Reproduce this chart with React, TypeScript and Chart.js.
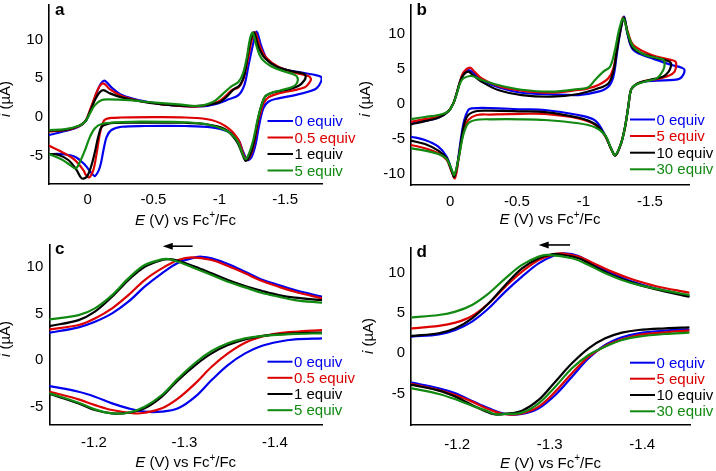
import React, { useEffect, useRef } from "react";
import { Chart, registerables } from "chart.js";

Chart.register(...registerables);

type P = [number, number];

const FONT = '"Liberation Sans", Arial, Helvetica, sans-serif';
const COLORS = ["#0000ee", "#dd0000", "#000000", "#128a12"];

// ---------- Panel a (full CV, 0 / 0.5 / 1 / 5 equiv) ----------
const labelsA = ["0 equiv", "0.5 equiv", "1 equiv", "5 equiv"];
const xTicksA = [0, -0.5, -1, -1.5];
const yTicksA = [-5, 0, 5, 10];
const a0: P[] = [[0.294,-2.37],[0.172,-1.85],[0.07,-1.3],[0.01,-0.43],[-0.03,1.3],[-0.07,3.2],[-0.1,4.3],[-0.126,4.66],[-0.15,4.35],[-0.18,3.8],[-0.26,2.8],[-0.385,2.16],[-0.56,1.64],[-0.74,1.38],[-0.89,1.38],[-0.99,1.73],[-1.07,2.25],[-1.145,2.8],[-1.19,4.1],[-1.22,6.5],[-1.258,9.5],[-1.284,11.0],[-1.32,9.05],[-1.37,7.3],[-1.47,6.26],[-1.626,5.7],[-1.74,5.35],[-1.775,5.1],[-1.772,4.5],[-1.74,3.7],[-1.7,3.37],[-1.575,2.8],[-1.448,2.38],[-1.372,1.94],[-1.334,1.08],[-1.3,-1.3],[-1.277,-3.45],[-1.246,-5.17],[-1.215,-5.6],[-1.18,-4.5],[-1.145,-3.0],[-1.07,-1.94],[-0.94,-1.37],[-0.74,-1.2],[-0.435,-1.2],[-0.258,-1.3],[-0.18,-1.72],[-0.144,-2.6],[-0.12,-4.3],[-0.093,-6.5],[-0.055,-7.67],[-0.03,-7.3],[0.02,-6.25],[0.097,-5.17],[0.198,-4.83],[0.294,-4.83]];
const a1: P[] = [[0.294,-1.9],[0.17,-1.75],[0.07,-1.25],[0.02,-0.64],[-0.017,0.86],[-0.055,2.6],[-0.088,3.88],[-0.119,4.32],[-0.169,3.54],[-0.258,2.68],[-0.385,2.07],[-0.56,1.64],[-0.815,1.3],[-0.99,1.94],[-1.056,2.8],[-1.094,3.45],[-1.145,3.8],[-1.18,4.75],[-1.216,7.33],[-1.246,9.9],[-1.271,10.9],[-1.31,9.05],[-1.36,7.55],[-1.448,6.47],[-1.575,5.7],[-1.676,5.27],[-1.695,4.95],[-1.688,4.5],[-1.65,3.8],[-1.55,3.37],[-1.448,3.0],[-1.372,2.5],[-1.335,1.7],[-1.315,0.6],[-1.297,-0.43],[-1.27,-3.0],[-1.241,-4.83],[-1.208,-5.6],[-1.18,-4.7],[-1.145,-3.0],[-1.07,-1.5],[-0.94,-0.43],[-0.74,-0.1],[-0.5,-0.05],[-0.25,-0.1],[-0.18,-0.15],[-0.14,-0.3],[-0.119,-0.64],[-0.093,-2.15],[-0.068,-4.74],[-0.043,-6.9],[-0.02,-7.7],[-0.005,-7.84],[0.015,-7.5],[0.033,-6.9],[0.097,-5.6],[0.2,-4.53],[0.294,-3.75]];
const a2: P[] = [[0.294,-1.8],[0.17,-1.7],[0.07,-1.2],[0.02,-0.64],[-0.017,0.65],[-0.055,2.16],[-0.088,3.1],[-0.119,3.45],[-0.169,3.02],[-0.258,2.5],[-0.385,2.03],[-0.56,1.6],[-0.815,1.38],[-0.99,1.8],[-1.056,2.6],[-1.107,3.5],[-1.157,4.1],[-1.19,5.4],[-1.216,8.0],[-1.241,10.1],[-1.264,10.9],[-1.297,9.05],[-1.347,7.55],[-1.436,6.47],[-1.55,5.9],[-1.638,5.6],[-1.655,5.3],[-1.648,4.75],[-1.6,3.97],[-1.5,3.45],[-1.4,3.1],[-1.347,2.6],[-1.317,1.3],[-1.29,-0.64],[-1.264,-3.2],[-1.233,-4.95],[-1.2,-5.7],[-1.175,-4.83],[-1.132,-3.2],[-1.043,-1.6],[-0.89,-0.94],[-0.74,-0.78],[-0.4,-0.78],[-0.2,-0.8],[-0.157,-0.9],[-0.106,-1.3],[-0.08,-2.6],[-0.055,-4.53],[-0.025,-6.47],[0.008,-7.76],[0.046,-7.97],[0.084,-6.9],[0.147,-5.6],[0.22,-4.95],[0.294,-4.8]];
const a3: P[] = [[0.294,-1.72],[0.17,-1.6],[0.07,-1.2],[0.02,-0.64],[-0.017,0.43],[-0.055,1.5],[-0.106,2.16],[-0.157,2.25],[-0.31,2.16],[-0.435,1.94],[-0.69,1.6],[-0.85,1.4],[-0.95,1.9],[-0.99,2.38],[-1.045,3.24],[-1.094,3.97],[-1.145,4.5],[-1.18,5.6],[-1.21,7.76],[-1.233,10.1],[-1.254,10.87],[-1.284,9.05],[-1.32,7.55],[-1.4,6.47],[-1.5,5.82],[-1.575,5.4],[-1.595,5.0],[-1.588,4.3],[-1.55,3.8],[-1.474,3.45],[-1.385,3.0],[-1.347,2.6],[-1.317,1.3],[-1.29,-0.43],[-1.258,-3.0],[-1.226,-4.74],[-1.2,-5.5],[-1.175,-4.74],[-1.132,-3.0],[-1.043,-1.72],[-0.89,-0.94],[-0.7,-0.7],[-0.4,-0.64],[-0.26,-0.7],[-0.106,-0.94],[-0.055,-1.5],[-0.017,-2.6],[0.02,-4.3],[0.058,-5.8],[0.091,-6.68],[0.134,-6.25],[0.2,-5.5],[0.294,-4.83]];

// ---------- Panel b (full CV, 0 / 5 / 10 / 30 equiv) ----------
const labelsB = ["0 equiv", "5 equiv", "10 equiv", "30 equiv"];
const xTicksB = [0, -0.5, -1, -1.5];
const yTicksB = [-10, -5, 0, 5, 10];
const b0: P[] = [[0.295,-2.85],[0.19,-2.45],[0.09,-2.0],[0.015,-1.1],[-0.023,0.05],[-0.048,1.49],[-0.073,3.15],[-0.098,4.2],[-0.14,4.8],[-0.18,4.3],[-0.236,3.39],[-0.36,2.35],[-0.536,1.57],[-0.76,1.34],[-0.962,1.24],[-1.112,1.72],[-1.187,2.43],[-1.225,3.87],[-1.25,6.97],[-1.275,10.07],[-1.305,12.45],[-1.333,9.8],[-1.375,7.68],[-1.513,6.5],[-1.663,5.54],[-1.738,5.15],[-1.758,4.9],[-1.752,4.2],[-1.725,3.6],[-1.68,3.4],[-1.55,3.3],[-1.45,3.15],[-1.388,2.67],[-1.357,1.96],[-1.337,-0.43],[-1.313,-3.29],[-1.283,-5.67],[-1.24,-7.4],[-1.207,-6.38],[-1.162,-4.48],[-1.087,-2.4],[-0.962,-1.62],[-0.711,-0.9],[-0.536,-0.8],[-0.3,-0.62],[-0.16,-0.66],[-0.135,-0.9],[-0.105,-2.33],[-0.086,-4.24],[-0.065,-7.1],[-0.048,-9.5],[-0.03,-10.45],[-0.01,-9.5],[0.027,-7.58],[0.09,-6.15],[0.19,-5.19],[0.295,-4.72]];
const b1: P[] = [[0.295,-2.6],[0.19,-2.2],[0.09,-1.86],[0.015,-1.1],[-0.023,0.05],[-0.048,1.49],[-0.073,3.15],[-0.098,4.43],[-0.148,5.15],[-0.18,4.6],[-0.236,3.63],[-0.36,2.53],[-0.536,1.86],[-0.76,1.57],[-0.962,1.96],[-1.037,2.2],[-1.112,2.67],[-1.187,3.63],[-1.225,5.06],[-1.25,7.68],[-1.275,10.5],[-1.3,12.35],[-1.333,10.3],[-1.375,8.4],[-1.513,6.97],[-1.65,6.3],[-1.69,6.05],[-1.697,5.6],[-1.685,4.6],[-1.64,4.0],[-1.55,3.5],[-1.45,3.2],[-1.388,2.67],[-1.357,1.96],[-1.337,-0.43],[-1.313,-3.29],[-1.283,-5.67],[-1.24,-7.4],[-1.207,-6.4],[-1.162,-4.6],[-1.087,-3.0],[-0.962,-2.1],[-0.711,-1.47],[-0.536,-1.45],[-0.3,-1.55],[-0.2,-1.62],[-0.135,-2.33],[-0.105,-3.52],[-0.086,-5.19],[-0.065,-7.58],[-0.035,-10.67],[-0.01,-9.7],[0.027,-8.05],[0.09,-7.1],[0.19,-6.38],[0.295,-5.9]];
const b2: P[] = [[0.295,-2.95],[0.19,-2.5],[0.09,-2.0],[0.015,-1.1],[-0.023,0.05],[-0.048,1.49],[-0.073,3.1],[-0.098,4.1],[-0.135,4.58],[-0.17,4.1],[-0.236,3.15],[-0.36,1.96],[-0.536,1.24],[-0.76,1.0],[-0.962,1.39],[-1.112,2.2],[-1.187,2.9],[-1.225,4.58],[-1.25,7.5],[-1.277,10.4],[-1.305,12.3],[-1.333,10.0],[-1.375,7.9],[-1.513,6.7],[-1.62,6.2],[-1.655,5.9],[-1.658,5.4],[-1.64,4.6],[-1.6,3.9],[-1.5,3.4],[-1.42,3.0],[-1.388,2.67],[-1.357,1.96],[-1.337,-0.43],[-1.313,-3.29],[-1.283,-5.67],[-1.24,-7.4],[-1.207,-6.4],[-1.162,-4.5],[-1.087,-2.9],[-0.962,-2.0],[-0.711,-1.2],[-0.536,-1.1],[-0.3,-1.0],[-0.2,-1.05],[-0.135,-1.62],[-0.105,-2.9],[-0.086,-4.72],[-0.065,-7.34],[-0.03,-10.45],[-0.01,-9.6],[0.027,-7.8],[0.09,-6.72],[0.19,-5.77],[0.295,-5.29]];
const b3: P[] = [[0.295,-2.2],[0.19,-1.9],[0.09,-1.62],[0.015,-1.1],[-0.023,0.05],[-0.048,1.4],[-0.073,2.9],[-0.098,3.63],[-0.16,3.96],[-0.236,3.39],[-0.36,2.67],[-0.536,2.0],[-0.76,1.72],[-0.962,2.1],[-1.037,2.35],[-1.087,3.39],[-1.15,4.58],[-1.2,5.3],[-1.237,7.68],[-1.267,10.5],[-1.3,12.2],[-1.333,10.07],[-1.375,8.15],[-1.463,6.97],[-1.563,6.5],[-1.6,6.3],[-1.61,5.7],[-1.6,4.82],[-1.55,3.63],[-1.46,3.15],[-1.388,2.67],[-1.357,1.96],[-1.337,-0.43],[-1.313,-3.29],[-1.283,-5.67],[-1.237,-7.34],[-1.207,-6.38],[-1.162,-4.48],[-1.087,-3.38],[-0.962,-2.8],[-0.711,-2.33],[-0.536,-2.23],[-0.3,-2.23],[-0.2,-2.3],[-0.135,-2.8],[-0.105,-4.0],[-0.086,-5.43],[-0.065,-7.58],[-0.03,-10.2],[-0.01,-9.4],[0.027,-7.9],[0.09,-7.2],[0.19,-6.72],[0.295,-6.38]];

// ---------- Panel c (zoom of main wave, 0 / 0.5 / 1 / 5 equiv) ----------
const labelsC = ["0 equiv", "0.5 equiv", "1 equiv", "5 equiv"];
const xTicksC = [-1.2, -1.3, -1.4];
const yTicksC = [-5, 0, 5, 10];
const c0Up: P[] = [[-1.151,2.93],[-1.183,3.5],[-1.201,4.1],[-1.22,5.0],[-1.238,6.25],[-1.256,7.86],[-1.275,9.29],[-1.293,10.43],[-1.312,11.0],[-1.319,11.07],[-1.33,10.9],[-1.348,10.3],[-1.367,9.47],[-1.385,8.64],[-1.404,8.04],[-1.422,7.5],[-1.452,6.79]];
const c0Dn: P[] = [[-1.452,2.32],[-1.422,2.21],[-1.404,1.96],[-1.385,1.5],[-1.367,0.71],[-1.348,-0.54],[-1.33,-2.15],[-1.312,-3.93],[-1.293,-5.18],[-1.275,-5.54],[-1.256,-5.54],[-1.238,-5.18],[-1.22,-4.65],[-1.201,-3.93],[-1.183,-3.4],[-1.151,-2.79]];
const c1Up: P[] = [[-1.151,3.28],[-1.183,3.75],[-1.201,4.46],[-1.22,5.54],[-1.238,6.96],[-1.256,8.57],[-1.275,9.82],[-1.293,10.72],[-1.308,11.0],[-1.33,10.72],[-1.348,10.07],[-1.367,9.29],[-1.385,8.5],[-1.404,7.86],[-1.422,7.32],[-1.452,6.61]];
const c1Dn: P[] = [[-1.452,3.21],[-1.422,3.03],[-1.404,2.86],[-1.385,2.5],[-1.367,1.85],[-1.348,0.71],[-1.33,-0.72],[-1.312,-2.5],[-1.293,-4.11],[-1.275,-5.18],[-1.256,-5.65],[-1.245,-5.72],[-1.22,-5.36],[-1.201,-4.83],[-1.183,-4.22],[-1.151,-3.4]];
const c2Up: P[] = [[-1.151,3.64],[-1.183,4.28],[-1.201,5.18],[-1.22,6.79],[-1.238,8.57],[-1.256,10.0],[-1.275,10.72],[-1.284,10.82],[-1.293,10.64],[-1.312,10.0],[-1.33,9.29],[-1.348,8.57],[-1.367,7.93],[-1.385,7.43],[-1.404,6.96],[-1.422,6.68],[-1.452,6.43]];
const c2Dn: P[] = [[-1.452,2.93],[-1.422,2.86],[-1.404,2.75],[-1.385,2.57],[-1.367,2.21],[-1.348,1.6],[-1.33,0.71],[-1.312,-0.54],[-1.293,-2.15],[-1.275,-3.93],[-1.256,-5.18],[-1.238,-5.65],[-1.22,-5.72],[-1.201,-5.36],[-1.183,-4.65],[-1.151,-3.65]];
const c3Up: P[] = [[-1.151,4.36],[-1.183,4.82],[-1.201,5.54],[-1.22,6.96],[-1.238,8.75],[-1.256,10.18],[-1.275,10.79],[-1.282,10.82],[-1.293,10.54],[-1.312,9.82],[-1.33,9.11],[-1.348,8.39],[-1.367,7.79],[-1.385,7.21],[-1.404,6.79],[-1.422,6.43],[-1.452,6.14]];
const c3Dn: P[] = [[-1.452,2.86],[-1.422,2.8],[-1.385,2.57],[-1.367,2.32],[-1.348,1.79],[-1.33,0.96],[-1.312,-0.29],[-1.293,-1.97],[-1.275,-3.75],[-1.256,-5.0],[-1.238,-5.65],[-1.22,-5.72],[-1.201,-5.29],[-1.183,-4.58],[-1.151,-3.58]];

// ---------- Panel d (zoom of main wave, 0 / 5 / 10 / 30 equiv) ----------
const labelsD = ["0 equiv", "5 equiv", "10 equiv", "30 equiv"];
const xTicksD = [-1.2, -1.3, -1.4];
const yTicksD = [-5, 0, 5, 10];
const d0Up: P[] = [[-1.151,2.07],[-1.18,2.35],[-1.198,2.9],[-1.216,3.93],[-1.234,5.58],[-1.252,7.65],[-1.27,9.51],[-1.288,11.16],[-1.306,12.2],[-1.316,12.4],[-1.331,12.07],[-1.349,10.96],[-1.367,9.92],[-1.389,8.89],[-1.414,8.06],[-1.45,7.11]];
const d0Dn: P[] = [[-1.45,2.98],[-1.425,2.8],[-1.396,2.48],[-1.378,1.98],[-1.36,1.03],[-1.342,-0.62],[-1.324,-2.9],[-1.306,-5.17],[-1.288,-6.83],[-1.27,-7.53],[-1.252,-7.53],[-1.234,-6.83],[-1.216,-5.92],[-1.198,-4.97],[-1.18,-4.35],[-1.151,-3.64]];
const d1Up: P[] = [[-1.151,3.1],[-1.18,3.39],[-1.198,3.8],[-1.216,4.63],[-1.234,6.2],[-1.252,8.27],[-1.27,10.13],[-1.288,11.58],[-1.306,12.32],[-1.313,12.4],[-1.331,11.99],[-1.349,11.08],[-1.367,10.13],[-1.389,9.18],[-1.414,8.35],[-1.45,7.53]];
const d1Dn: P[] = [[-1.45,2.81],[-1.425,2.6],[-1.396,2.27],[-1.378,1.73],[-1.36,0.91],[-1.342,-0.42],[-1.324,-2.48],[-1.306,-4.76],[-1.288,-6.62],[-1.27,-7.45],[-1.252,-7.57],[-1.234,-6.95],[-1.216,-6.0],[-1.198,-5.17],[-1.18,-4.55],[-1.151,-3.81]];
const d2Up: P[] = [[-1.151,2.15],[-1.18,2.48],[-1.198,3.1],[-1.216,4.34],[-1.234,6.2],[-1.252,8.48],[-1.27,10.54],[-1.288,11.79],[-1.302,12.28],[-1.309,12.3],[-1.331,11.79],[-1.349,10.75],[-1.367,9.72],[-1.389,8.77],[-1.414,7.94],[-1.45,7.03]];
const d2Dn: P[] = [[-1.45,3.22],[-1.425,3.1],[-1.396,2.89],[-1.378,2.56],[-1.36,1.86],[-1.342,0.62],[-1.324,-1.24],[-1.306,-3.52],[-1.288,-5.79],[-1.27,-7.12],[-1.252,-7.53],[-1.241,-7.6],[-1.234,-7.36],[-1.216,-6.41],[-1.198,-5.38],[-1.18,-4.63],[-1.151,-3.93]];
const d3Up: P[] = [[-1.151,4.46],[-1.18,4.75],[-1.198,5.17],[-1.216,6.0],[-1.234,7.44],[-1.252,9.3],[-1.27,10.96],[-1.288,11.99],[-1.298,12.2],[-1.324,11.79],[-1.342,10.96],[-1.36,9.92],[-1.378,9.1],[-1.396,8.48],[-1.425,7.77],[-1.45,7.24]];
const d3Dn: P[] = [[-1.45,2.56],[-1.425,2.4],[-1.396,2.07],[-1.378,1.65],[-1.36,0.82],[-1.342,-0.21],[-1.324,-1.86],[-1.306,-4.14],[-1.288,-6.21],[-1.27,-7.36],[-1.252,-7.53],[-1.241,-7.55],[-1.234,-7.24],[-1.216,-6.5],[-1.198,-5.71],[-1.18,-5.05],[-1.151,-4.35]];

interface Spec {
  key: string;
  left: number; top: number; w: number; h: number;
  area: { l: number; r: number; t: number; b: number };
  xMin: number; xMax: number; yMin: number; yMax: number;
  xTicks: number[]; yTicks: number[];
  series: P[][][];
  labels: string[];
  tickPadX: number;
  legend: { x1: number; x2: number; rows: number[] };
  letter: string; letterX: number; letterY: number;
  xTitleY: number; yTitleX: number; yTitleY: number;
  arrow?: { e1: number; e2: number; i: number };
}

const SPECS: Spec[] = [
  {
    key: "a", left: 0, top: 0, w: 358, h: 235,
    area: { l: 49, r: 322, t: 5, b: 184 },
    xMin: -1.78, xMax: 0.294, yMin: -8.7, yMax: 14.45,
    xTicks: xTicksA, yTicks: yTicksA,
    series: [[a0], [a1], [a2], [a3]], labels: labelsA, tickPadX: 7,
    legend: { x1: 267.5, x2: 293, rows: [121, 137.5, 154, 170.5] },
    letter: "a", letterX: 55, letterY: 15,
    xTitleY: 220.5, yTitleX: 6, yTitleY: 99,
  },
  {
    key: "b", left: 358, top: 0, w: 358, h: 235,
    area: { l: 53, r: 331, t: 5, b: 185 },
    xMin: -1.793, xMax: 0.295, yMin: -11.63, yMax: 14.12,
    xTicks: xTicksB, yTicks: yTicksB,
    series: [[b0], [b1], [b2], [b3]], labels: labelsB, tickPadX: 7.7,
    legend: { x1: 272, x2: 297, rows: [119.5, 136, 152.7, 169.3] },
    letter: "b", letterX: 58.5, letterY: 15,
    xTitleY: 220, yTitleX: 7.5, yTitleY: 99,
  },
  {
    key: "c", left: 0, top: 235, w: 358, h: 236,
    area: { l: 49.3, r: 322, t: 10, b: 189.3 },
    xMin: -1.452, xMax: -1.1506, yMin: -6.89, yMax: 12.33,
    xTicks: xTicksC, yTicks: yTicksC,
    series: [[c0Up, c0Dn], [c1Up, c1Dn], [c2Up, c2Dn], [c3Up, c3Dn]], labels: labelsC, tickPadX: 10,
    legend: { x1: 267.5, x2: 292.5, rows: [126.7, 142.8, 159, 175.2] },
    letter: "c", letterX: 55, letterY: 18.5,
    xTitleY: 228, yTitleX: 6, yTitleY: 104,
    arrow: { e1: -1.309, e2: -1.276, i: 12.2 },
  },
  {
    key: "d", left: 358, top: 235, w: 358, h: 236,
    area: { l: 53, r: 332, t: 12.7, b: 190 },
    xMin: -1.4516, xMax: -1.15, yMin: -8.9, yMax: 13.1,
    xTicks: xTicksD, yTicks: yTicksD,
    series: [[d0Up, d0Dn], [d1Up, d1Dn], [d2Up, d2Dn], [d3Up, d3Dn]], labels: labelsD, tickPadX: 11,
    legend: { x1: 272, x2: 297, rows: [127.7, 143.7, 160, 176.3] },
    letter: "d", letterX: 58.5, letterY: 21.5,
    xTitleY: 228.5, yTitleX: 11, yTitleY: 101,
    arrow: { e1: -1.322, e2: -1.288, i: 13.44 },
  },
];

const TXT = 15;

type Part = { t: string; it?: boolean; sup?: boolean };

function richText(ctx: CanvasRenderingContext2D, parts: Part[], x: number, y: number, rotate: boolean) {
  const fonts = parts.map((p) => `${p.it ? "italic " : ""}${p.sup ? 10 : TXT}px ${FONT}`);
  const widths = parts.map((p, k) => {
    ctx.font = fonts[k];
    return ctx.measureText(p.t).width;
  });
  const total = widths.reduce((s, v) => s + v, 0);
  ctx.save();
  ctx.translate(x, y);
  if (rotate) ctx.rotate(-Math.PI / 2);
  ctx.fillStyle = "#000";
  ctx.textBaseline = "middle";
  ctx.textAlign = "left";
  let cx = -total / 2;
  parts.forEach((p, k) => {
    ctx.font = fonts[k];
    ctx.fillText(p.t, cx, p.sup ? -5 : 0);
    cx += widths[k];
  });
  ctx.restore();
}

function makeDeco(spec: Spec) {
  return {
    id: "deco" + spec.key,
    afterDraw(chart: any) {
      const ctx: CanvasRenderingContext2D = chart.ctx;
      const ca = chart.chartArea;
      const xs = chart.scales.x;
      const ys = chart.scales.y;
      ctx.save();
      // legend
      spec.labels.forEach((lab, k) => {
        const y = spec.legend.rows[k];
        ctx.strokeStyle = COLORS[k];
        ctx.lineWidth = 2;
        ctx.beginPath();
        ctx.moveTo(spec.legend.x1, y);
        ctx.lineTo(spec.legend.x2, y);
        ctx.stroke();
        ctx.fillStyle = COLORS[k];
        ctx.font = `${TXT}px ${FONT}`;
        ctx.textBaseline = "middle";
        ctx.textAlign = "left";
        ctx.fillText(lab, spec.legend.x2 + 1.5, y + 1);
      });
      // panel letter
      ctx.fillStyle = "#000";
      ctx.font = `bold 17px ${FONT}`;
      ctx.textBaseline = "alphabetic";
      ctx.textAlign = "left";
      ctx.fillText(spec.letter, spec.letterX, spec.letterY);
      // axis titles
      richText(ctx, [{ t: "E", it: true }, { t: " (V) vs Fc" }, { t: "+", sup: true }, { t: "/Fc" }], (ca.left + ca.right) / 2, spec.xTitleY, false);
      richText(ctx, [{ t: "i", it: true }, { t: " (\u00b5A)" }], spec.yTitleX, spec.yTitleY, true);
      // scan direction arrow
      if (spec.arrow) {
        const x1 = xs.getPixelForValue(spec.arrow.e1);
        const x2 = xs.getPixelForValue(spec.arrow.e2);
        const y = ys.getPixelForValue(spec.arrow.i);
        ctx.strokeStyle = "#000";
        ctx.fillStyle = "#000";
        ctx.lineWidth = 1.6;
        ctx.beginPath();
        ctx.moveTo(x1, y);
        ctx.lineTo(x2 + 6, y);
        ctx.stroke();
        ctx.beginPath();
        ctx.moveTo(x2, y);
        ctx.lineTo(x2 + 10, y - 3.5);
        ctx.lineTo(x2 + 10, y + 3.5);
        ctx.closePath();
        ctx.fill();
      }
      ctx.restore();
    },
  };
}

function toData(branches: P[][]) {
  const out: { x: number; y: number | null }[] = [];
  branches.forEach((br, k) => {
    if (k > 0) out.push({ x: br[0][0], y: null });
    br.forEach(([x, y]) => out.push({ x, y }));
  });
  return out;
}

function Panel({ spec }: { spec: Spec }) {
  const ref = useRef<HTMLCanvasElement | null>(null);
  useEffect(() => {
    if (!ref.current) return;
    const drawOrder = [3, 2, 1, 0];
    const tickFont = { family: FONT, size: TXT };
    const chart = new Chart(ref.current, {
      type: "scatter",
      data: {
        datasets: drawOrder.map((k) => ({
          label: spec.labels[k],
          data: toData(spec.series[k]) as any,
          showLine: true,
          borderColor: COLORS[k],
          backgroundColor: COLORS[k],
          borderWidth: 2.2,
          pointRadius: 0,
          pointHoverRadius: 0,
          tension: 0.35,
          fill: false,
          spanGaps: false,
          borderJoinStyle: "round" as const,
          borderCapStyle: "round" as const,
        })),
      },
      options: {
        responsive: false,
        animation: false,
        devicePixelRatio: 1,
        events: [],
        layout: { padding: { left: 0, top: spec.area.t, right: spec.w - spec.area.r, bottom: 0 } },
        plugins: { legend: { display: false }, tooltip: { enabled: false } },
        scales: {
          x: {
            type: "linear",
            position: "bottom",
            reverse: true,
            min: spec.xMin,
            max: spec.xMax,
            grid: { display: false, drawTicks: false },
            border: { display: true, color: "#000", width: 1.6 },
            ticks: {
              font: tickFont,
              color: "#000",
              padding: spec.tickPadX,
              maxRotation: 0,
              autoSkip: false,
              callback: (v: any) => String(v),
            },
            afterBuildTicks: (s: any) => {
              s.ticks = spec.xTicks.map((v) => ({ value: v }));
            },
            afterFit: (s: any) => {
              s.height = spec.h - spec.area.b;
              s.paddingLeft = 0;
              s.paddingRight = 0;
            },
          },
          y: {
            type: "linear",
            position: "left",
            min: spec.yMin,
            max: spec.yMax,
            grid: { display: false, drawTicks: false },
            border: { display: true, color: "#000", width: 1.6 },
            ticks: {
              font: tickFont,
              color: "#000",
              padding: 6,
              autoSkip: false,
              callback: (v: any) => String(v),
            },
            afterBuildTicks: (s: any) => {
              s.ticks = spec.yTicks.map((v) => ({ value: v }));
            },
            afterFit: (s: any) => {
              s.width = spec.area.l;
              s.paddingTop = 0;
              s.paddingBottom = 0;
            },
          },
        },
      },
      plugins: [makeDeco(spec)],
    } as any);
    return () => chart.destroy();
  }, [spec]);
  return (
    <canvas
      ref={ref}
      width={spec.w}
      height={spec.h}
      style={{ position: "absolute", left: spec.left, top: spec.top, width: spec.w, height: spec.h }}
    />
  );
}

export default function App() {
  return (
    <div style={{ position: "absolute", left: 0, top: 0, width: 716, height: 471, background: "#fff" }}>
      {SPECS.map((s) => (
        <Panel key={s.key} spec={s} />
      ))}
    </div>
  );
}
